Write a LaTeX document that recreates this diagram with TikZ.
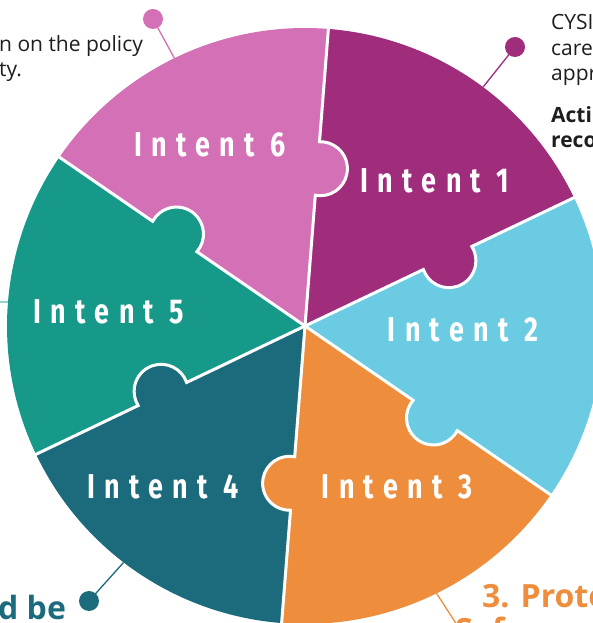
\documentclass[tikz,border=0pt]{standalone}
\usepackage{fontspec}
\setmainfont{Open Sans}
\newfontfamily\intentfont[FakeStretch=0.78,LetterSpace=27]{Fira Sans}
\usetikzlibrary{calc}
\definecolor{cI}{RGB}{160,44,124}
\definecolor{cII}{RGB}{107,203,227}
\definecolor{cIII}{RGB}{238,141,59}
\definecolor{cIV}{RGB}{27,107,125}
\definecolor{cV}{RGB}{23,153,138}
\definecolor{cVI}{RGB}{212,112,181}
\definecolor{txt}{RGB}{30,30,30}
\begin{document}
\begin{tikzpicture}[x=1pt,y=1pt,
  intent/.style={text=white,inner sep=0pt,font=\intentfont\bfseries\fontsize{34.5}{34}\selectfont},
  body/.style={text=txt,inner sep=0pt,anchor=base west,font=\fontsize{21}{24}\selectfont},
  bodybold/.style={body,font=\bfseries\fontsize{21}{24}\selectfont},
  big/.style={inner sep=0pt,anchor=base west,font=\bfseries\fontsize{32}{32}\selectfont},
  pinline/.style={line width=1.3pt},
  divider/.style={white,line width=3pt}]
\useasboundingbox (0,0) rectangle (593,623);
\clip (0,0) rectangle (593,623);
\begin{scope}[shift={(305,297)}]
  \coordinate (O) at (0,0);
  % sectors
  \foreach \a/\col in {25.5/cI,85.5/cVI,145.5/cV,205.5/cIV,265.5/cIII,-34.5/cII}{
    \fill[\col] (O) -- (\a:298pt) arc[start angle=\a,end angle=\a+60,radius=298pt] -- cycle;
  }
  % knobs
  \foreach \a/\col in {25.5/cI,85.5/cVI,145.5/cV,205.5/cIV,265.5/cIII,-34.5/cII}{
    \fill[\col] ($(\a:158pt)+(\a-90:3pt)$) circle[radius=27pt];
  }
  % dividers
  \foreach \a in {25.5,85.5,145.5,205.5,265.5,-34.5}{
    \draw[divider] (O) -- (\a:131.17pt)
      arc[start angle=\a+173.62,end angle=\a+366.38,radius=27pt] -- (\a:300pt);
  }
  % pins
  \coordinate (e6) at (116:298pt);
  \coordinate (e1) at (53.3:298pt);
  \coordinate (e4) at (232.5:298pt);
  \coordinate (e3) at (-63.8:298pt);
  \coordinate (e5) at (175.4:298pt);
\end{scope}
\coordinate (d6) at (153,604);
\coordinate (d1) at (515,576);
\coordinate (d4) at (89,22);
\coordinate (d3) at (470,-22);
\coordinate (d5) at (-40,321);
\draw[cVI,pinline] (e6) -- (d6);
\draw[cI,pinline] (e1) -- (d1);
\draw[cIV,pinline] (e4) -- (d4);
\draw[cIII,pinline] (e3) -- (d3);
\draw[cV!70,pinline] (e5) -- (d5);
\fill[cVI] (d6) circle[radius=10pt];
\fill[cI] (d1) circle[radius=10pt];
\fill[cIV] (d4) circle[radius=10pt];
\fill[cIII] (d3) circle[radius=10pt];
\fill[cV] (d5) circle[radius=10pt];
% intent labels
\node[intent] (i6) at (210,478) {Intent 6};
\node[intent] (i1) at (435,442) {Intent 1};
\node[intent] (i2) at (463,293) {Intent 2};
\node[intent] (i3) at (397,136) {Intent 3};
\node[intent] (i4) at (163,136) {Intent 4};
\node[intent] (i5) at (109,311) {Intent 5};
% outside texts
\node[body] (tl1) at (-1,571) {n on the policy};
\node[body] (tl2) at (-1,546) {ty.};
\node[body] (tr1) at (551,593) {CYSI};
\node[body] (tr2) at (551,567) {care};
\node[body] (tr3) at (551,542) {appr};
\node[bodybold] (tr4) at (551,500) {Acti};
\node[bodybold] (tr5) at (551,475) {reco};
\node[big,text=cIV] (bl) at (-2,4) {d be};
\node[big,text=cIII] (br) at (482,16) {3. Proto};
\node[big,text=cIII] (br2) at (455,-18) {Safeguarding};
\end{tikzpicture}
\end{document}
